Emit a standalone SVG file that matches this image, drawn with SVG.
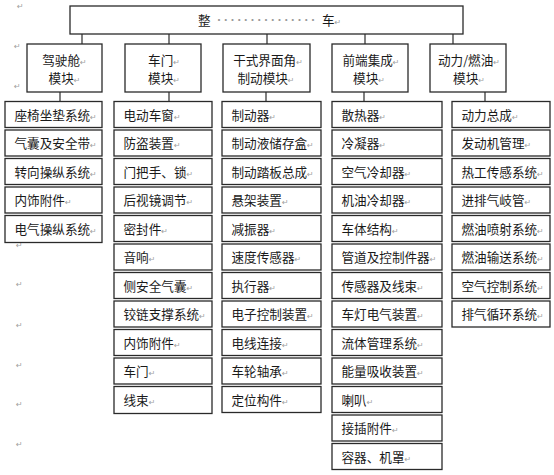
<svg xmlns="http://www.w3.org/2000/svg" width="554" height="475" viewBox="0 0 554 475">
<style>
rect{fill:#fff;stroke:#2a2a2a;stroke-width:1.3}
.c line{stroke:#2a2a2a;stroke-width:1.2}
text{font-family:"Noto Sans CJK SC","Liberation Sans",sans-serif;font-size:12.6px;fill:#1a1a1a}
.m{text-anchor:middle}
.pm{font-family:"DejaVu Sans",sans-serif;font-size:8px;fill:#a0a0a0}
.dots{fill:#999;font-size:10px}
</style>
<rect width="554" height="475" style="fill:#fff;stroke:none"/>
<g id="marks">
<text x="17" y="9" class="pm">↵</text>
<text x="14" y="49" class="pm">↵</text>
<text x="14" y="89" class="pm">↵</text>
<text x="16" y="248" class="pm">↵</text>
<text x="16" y="287" class="pm">↵</text>
<text x="16" y="328" class="pm">↵</text>
<text x="16" y="368" class="pm">↵</text>
<text x="16" y="407" class="pm">↵</text>
<text x="16" y="447" class="pm">↵</text>
</g>
<g class="c" id="connectors">
<line x1="82" y1="34" x2="82" y2="44"/>
<line x1="169" y1="34" x2="169" y2="44"/>
<line x1="267" y1="34" x2="267" y2="44"/>
<line x1="365" y1="34" x2="365" y2="44"/>
<line x1="453" y1="34" x2="453" y2="44"/>
<line x1="60" y1="92" x2="60" y2="102"/>
<line x1="169" y1="92" x2="169" y2="102"/>
<line x1="266" y1="92" x2="266" y2="102"/>
<line x1="364" y1="92" x2="364" y2="102"/>
<line x1="485" y1="92" x2="485" y2="102"/>
</g>
<g id="root">
<rect x="70" y="6" width="393" height="28"/>
<text x="198" y="25">整</text>
<text x="214" y="24" class="dots" textLength="104" lengthAdjust="spacing">···············</text>
<text x="322" y="25">车<tspan class="pm">↵</tspan></text>
</g>
<g id="mod1"><rect x="27" y="44" width="75" height="48"/><text x="64.5" y="65" class="m">驾驶舱<tspan class="pm">↵</tspan></text><text x="64.5" y="83" class="m">模块<tspan class="pm">↵</tspan></text></g>
<g id="mod2"><rect x="125" y="44" width="76" height="48"/><text x="164" y="65" class="m">车门<tspan class="pm">↵</tspan></text><text x="164" y="83" class="m">模块<tspan class="pm">↵</tspan></text></g>
<g id="mod3"><rect x="223" y="44" width="87" height="48"/><text x="268" y="65" class="m">干式界面角<tspan class="pm">↵</tspan></text><text x="266" y="83" class="m">制动模块<tspan class="pm">↵</tspan></text></g>
<g id="mod4"><rect x="332" y="44" width="76" height="48"/><text x="371" y="65" class="m">前端集成<tspan class="pm">↵</tspan></text><text x="369" y="83" class="m">模块<tspan class="pm">↵</tspan></text></g>
<g id="mod5"><rect x="430" y="44" width="76" height="48"/><text x="469" y="65" class="m">动力/燃油<tspan class="pm">↵</tspan></text><text x="469" y="83" class="m">模块<tspan class="pm">↵</tspan></text></g>

<g id="c1">
<g id="c1r0"><rect x="5" y="101.5" width="97" height="26"/><text x="14.5" y="119.5">座椅坐垫系统<tspan class="pm">↵</tspan></text></g>
<g id="c1r1"><rect x="5" y="130" width="97" height="26"/><text x="14.5" y="148">气囊及安全带<tspan class="pm">↵</tspan></text></g>
<g id="c1r2"><rect x="5" y="158.5" width="97" height="26"/><text x="14.5" y="176.5">转向操纵系统<tspan class="pm">↵</tspan></text></g>
<g id="c1r3"><rect x="5" y="187" width="97" height="26"/><text x="14.5" y="205">内饰附件<tspan class="pm">↵</tspan></text></g>
<g id="c1r4"><rect x="5" y="215.5" width="97" height="27"/><text x="14.5" y="234">电气操纵系统<tspan class="pm">↵</tspan></text></g>
</g>

<g id="c2">
<g id="c2r0"><rect x="114" y="101.5" width="98" height="26"/><text x="123.5" y="119.5">电动车窗<tspan class="pm">↵</tspan></text></g>
<g id="c2r1"><rect x="114" y="130" width="98" height="26"/><text x="123.5" y="148">防盗装置<tspan class="pm">↵</tspan></text></g>
<g id="c2r2"><rect x="114" y="158.5" width="98" height="26"/><text x="123.5" y="176.5">门把手、锁<tspan class="pm">↵</tspan></text></g>
<g id="c2r3"><rect x="114" y="187" width="98" height="26"/><text x="123.5" y="205">后视镜调节<tspan class="pm">↵</tspan></text></g>
<g id="c2r4"><rect x="114" y="215.5" width="98" height="26"/><text x="123.5" y="233.5">密封件<tspan class="pm">↵</tspan></text></g>
<g id="c2r5"><rect x="114" y="244" width="98" height="26"/><text x="123.5" y="262">音响<tspan class="pm">↵</tspan></text></g>
<g id="c2r6"><rect x="114" y="272.5" width="98" height="26"/><text x="123.5" y="290.5">侧安全气囊<tspan class="pm">↵</tspan></text></g>
<g id="c2r7"><rect x="114" y="301" width="98" height="26"/><text x="123.5" y="319">铰链支撑系统<tspan class="pm">↵</tspan></text></g>
<g id="c2r8"><rect x="114" y="329.5" width="98" height="26"/><text x="123.5" y="347.5">内饰附件<tspan class="pm">↵</tspan></text></g>
<g id="c2r9"><rect x="114" y="358" width="98" height="26"/><text x="123.5" y="376">车门<tspan class="pm">↵</tspan></text></g>
<g id="c2r10"><rect x="114" y="386.5" width="98" height="27"/><text x="123.5" y="404.5">线束<tspan class="pm">↵</tspan></text></g>
</g>

<g id="c3">
<g id="c3r0"><rect x="222" y="101.5" width="99" height="26"/><text x="231.5" y="119.5">制动器<tspan class="pm">↵</tspan></text></g>
<g id="c3r1"><rect x="222" y="130" width="99" height="26"/><text x="231.5" y="148">制动液储存盒<tspan class="pm">↵</tspan></text></g>
<g id="c3r2"><rect x="222" y="158.5" width="99" height="26"/><text x="231.5" y="176.5">制动踏板总成<tspan class="pm">↵</tspan></text></g>
<g id="c3r3"><rect x="222" y="187" width="99" height="26"/><text x="231.5" y="205">悬架装置<tspan class="pm">↵</tspan></text></g>
<g id="c3r4"><rect x="222" y="215.5" width="99" height="26"/><text x="231.5" y="233.5">减振器<tspan class="pm">↵</tspan></text></g>
<g id="c3r5"><rect x="222" y="244" width="99" height="26"/><text x="231.5" y="262">速度传感器<tspan class="pm">↵</tspan></text></g>
<g id="c3r6"><rect x="222" y="272.5" width="99" height="26"/><text x="231.5" y="290.5">执行器<tspan class="pm">↵</tspan></text></g>
<g id="c3r7"><rect x="222" y="301" width="99" height="26"/><text x="231.5" y="319">电子控制装置<tspan class="pm">↵</tspan></text></g>
<g id="c3r8"><rect x="222" y="329.5" width="99" height="26"/><text x="231.5" y="347.5">电线连接<tspan class="pm">↵</tspan></text></g>
<g id="c3r9"><rect x="222" y="358" width="99" height="26"/><text x="231.5" y="376">车轮轴承<tspan class="pm">↵</tspan></text></g>
<g id="c3r10"><rect x="222" y="386.5" width="99" height="26"/><text x="231.5" y="404.5">定位构件<tspan class="pm">↵</tspan></text></g>
</g>

<g id="c4">
<g id="c4r0"><rect x="332" y="101.5" width="110" height="26"/><text x="341.5" y="119.5">散热器<tspan class="pm">↵</tspan></text></g>
<g id="c4r1"><rect x="332" y="130" width="110" height="26"/><text x="341.5" y="148">冷凝器<tspan class="pm">↵</tspan></text></g>
<g id="c4r2"><rect x="332" y="158.5" width="110" height="26"/><text x="341.5" y="176.5">空气冷却器<tspan class="pm">↵</tspan></text></g>
<g id="c4r3"><rect x="332" y="187" width="110" height="26"/><text x="341.5" y="205">机油冷却器<tspan class="pm">↵</tspan></text></g>
<g id="c4r4"><rect x="332" y="215.5" width="110" height="26"/><text x="341.5" y="233.5">车体结构<tspan class="pm">↵</tspan></text></g>
<g id="c4r5"><rect x="332" y="244" width="110" height="26"/><text x="341.5" y="262">管道及控制件器<tspan class="pm">↵</tspan></text></g>
<g id="c4r6"><rect x="332" y="272.5" width="110" height="26"/><text x="341.5" y="290.5">传感器及线束<tspan class="pm">↵</tspan></text></g>
<g id="c4r7"><rect x="332" y="301" width="110" height="26"/><text x="341.5" y="319">车灯电气装置<tspan class="pm">↵</tspan></text></g>
<g id="c4r8"><rect x="332" y="329.5" width="110" height="26"/><text x="341.5" y="347.5">流体管理系统<tspan class="pm">↵</tspan></text></g>
<g id="c4r9"><rect x="332" y="358" width="110" height="26"/><text x="341.5" y="376">能量吸收装置<tspan class="pm">↵</tspan></text></g>
<g id="c4r10"><rect x="332" y="386.5" width="110" height="26"/><text x="341.5" y="404.5">喇叭<tspan class="pm">↵</tspan></text></g>
<g id="c4r11"><rect x="332" y="415" width="110" height="26"/><text x="341.5" y="433">接插附件<tspan class="pm">↵</tspan></text></g>
<g id="c4r12"><rect x="332" y="443.5" width="110" height="26"/><text x="341.5" y="461.5">容器、机罩<tspan class="pm">↵</tspan></text></g>
</g>

<g id="c5">
<g id="c5r0"><rect x="452" y="101.5" width="98" height="26"/><text x="461.5" y="119.5">动力总成<tspan class="pm">↵</tspan></text></g>
<g id="c5r1"><rect x="452" y="130" width="98" height="26"/><text x="461.5" y="148">发动机管理<tspan class="pm">↵</tspan></text></g>
<g id="c5r2"><rect x="452" y="158.5" width="98" height="26"/><text x="461.5" y="176.5">热工传感系统<tspan class="pm">↵</tspan></text></g>
<g id="c5r3"><rect x="452" y="187" width="98" height="26"/><text x="461.5" y="205">进排气岐管<tspan class="pm">↵</tspan></text></g>
<g id="c5r4"><rect x="452" y="215.5" width="98" height="26"/><text x="461.5" y="233.5">燃油喷射系统<tspan class="pm">↵</tspan></text></g>
<g id="c5r5"><rect x="452" y="244" width="98" height="26"/><text x="461.5" y="262">燃油输送系统<tspan class="pm">↵</tspan></text></g>
<g id="c5r6"><rect x="452" y="272.5" width="98" height="26"/><text x="461.5" y="290.5">空气控制系统<tspan class="pm">↵</tspan></text></g>
<g id="c5r7"><rect x="452" y="301" width="98" height="26"/><text x="461.5" y="319">排气循环系统<tspan class="pm">↵</tspan></text></g>
</g>
</svg>
